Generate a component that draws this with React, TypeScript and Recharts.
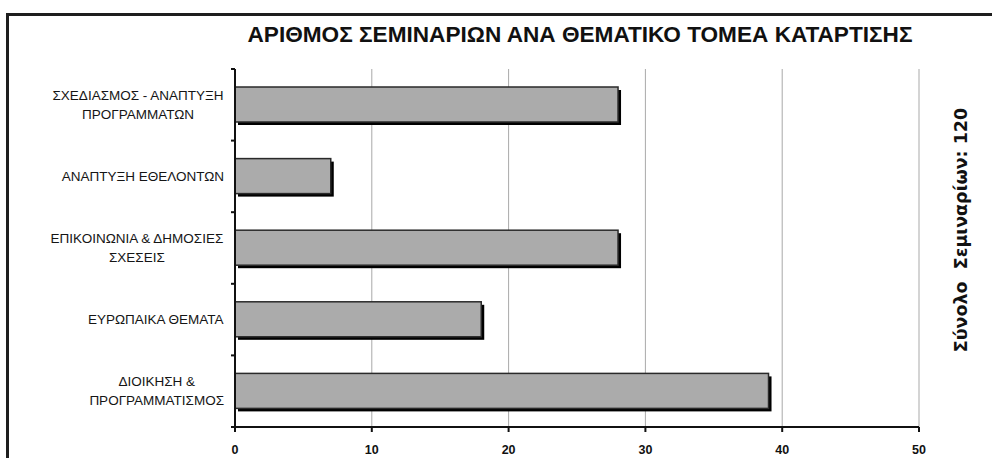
import React from 'react';
import { BarChart, Bar, XAxis, YAxis, CartesianGrid } from 'recharts';

const categories = [
  'ΣΧΕΔΙΑΣΜΟΣ - ΑΝΑΠΤΥΞΗ\nΠΡΟΓΡΑΜΜΑΤΩΝ',
  'ΑΝΑΠΤΥΞΗ ΕΘΕΛΟΝΤΩΝ',
  'ΕΠΙΚΟΙΝΩΝΙΑ & ΔΗΜΟΣΙΕΣ\nΣΧΕΣΕΙΣ',
  'ΕΥΡΩΠΑΙΚΑ ΘΕΜΑΤΑ',
  'ΔΙΟΙΚΗΣΗ &\nΠΡΟΓΡΑΜΜΑΤΙΣΜΟΣ',
];
const seminars = [28, 7, 28, 18, 39];
const xTicks = [0, 10, 20, 30, 40, 50];
const title = 'ΑΡΙΘΜΟΣ ΣΕΜΙΝΑΡΙΩΝ ΑΝΑ ΘΕΜΑΤΙΚΟ ΤΟΜΕΑ ΚΑΤΑΡΤΙΣΗΣ';
const sideNote = 'Σύνολο  Σεμιναρίων: 120';

const chartData = categories.map((name, i) => ({ name, value: seminars[i] }));

const FONT = "Arial, 'Liberation Sans', sans-serif";
const LABEL_SIZE = 13.5;

let measureCtx: CanvasRenderingContext2D | null = null;
const textWidth = (s: string) => {
  if (!measureCtx) {
    measureCtx = document.createElement('canvas').getContext('2d');
  }
  if (!measureCtx) return s.length * 8.5;
  measureCtx.font = `${LABEL_SIZE}px ${FONT}`;
  return measureCtx.measureText(s).width;
};

// category label: lines centred on each other, block right-aligned next to the axis
const CategoryTick = (props: any) => {
  const { x, y, payload, index, visibleTicksCount } = props;
  const lines: string[] = String(payload.value).split('\n');
  const band = payload.offset ? payload.offset * 2 : 71.6;
  const axisX = x + 8; // tick x sits tickSize + tickMargin left of the axis
  const right = axisX - 11;
  const blockW = Math.max(...lines.map(textWidth));
  const cx = right - blockW / 2;
  const lh = 18.5;
  const startY = y - ((lines.length - 1) * lh) / 2;
  return (
    <g>
      <line x1={axisX - 4} x2={axisX} y1={y - band / 2} y2={y - band / 2} stroke="#111" strokeWidth={2} />
      {index === visibleTicksCount - 1 && (
        <line x1={axisX - 4} x2={axisX} y1={y + band / 2} y2={y + band / 2} stroke="#111" strokeWidth={2} />
      )}
      <text textAnchor="middle" fill="#151515" fontSize={LABEL_SIZE} fontFamily={FONT}>
        {lines.map((l, i) => (
          <tspan key={i} x={cx} y={startY + i * lh} dominantBaseline="central">
            {l}
          </tspan>
        ))}
      </text>
    </g>
  );
};

const ShadowBar = (props: any) => {
  const { x, y, width, height } = props;
  if (!width || width <= 0) return null;
  return (
    <g>
      <rect x={x + 3} y={y + 3} width={width} height={height} fill="#000" />
      <rect x={x} y={y} width={width} height={height} fill="#ababab" stroke="#2a2a2a" strokeWidth={1.5} />
    </g>
  );
};

const App: React.FC = () => {
  return (
    <div style={{ position: 'fixed', left: 0, top: 0, width: 992, height: 458, overflow: 'hidden', background: '#fff' }}>
      <div
        style={{
          position: 'absolute',
          left: 6,
          top: 13,
          width: 1000,
          height: 460,
          borderTop: '3px solid #1e1e1e',
          borderLeft: '3px solid #1e1e1e',
        }}
      />
      <div style={{ position: 'absolute', left: 0, top: 0 }}>
        <BarChart
          width={992}
          height={458}
          data={chartData}
          layout="vertical"
          margin={{ top: 69, right: 73, bottom: 6, left: 0 }}
        >
          <CartesianGrid horizontal={false} stroke="#a9a9a9" strokeWidth={1} />
          <XAxis
            type="number"
            domain={[0, 50]}
            ticks={xTicks}
            interval={0}
            height={25}
            axisLine={{ stroke: '#111', strokeWidth: 2 }}
            tickLine={{ stroke: '#111', strokeWidth: 2 }}
            tickSize={5}
            tickMargin={13}
            tick={{ fill: '#111', fontSize: 12.5, fontWeight: 'bold', fontFamily: FONT }}
          />
          <XAxis
            xAxisId="top"
            orientation="top"
            type="number"
            domain={[0, 50]}
            height={0}
            tick={false}
            tickLine={false}
            axisLine={{ stroke: '#a9a9a9', strokeWidth: 2 }}
          />
          <YAxis
            type="category"
            dataKey="name"
            width={235}
            interval={0}
            tickLine={false}
            axisLine={{ stroke: '#111', strokeWidth: 2 }}
            tick={<CategoryTick />}
          />
          <YAxis
            yAxisId="right"
            orientation="right"
            type="category"
            dataKey="name"
            width={0}
            tick={false}
            tickLine={false}
            axisLine={{ stroke: '#a9a9a9', strokeWidth: 2 }}
          />
          <Bar dataKey="value" barSize={35} shape={<ShadowBar />} isAnimationActive={false} />
        </BarChart>
      </div>
      <svg width={992} height={458} style={{ position: 'absolute', left: 0, top: 0, pointerEvents: 'none' }}>
        <text
          x={580}
          y={42}
          textAnchor="middle"
          fontFamily={FONT}
          fontWeight="bold"
          fontSize={22}
          textLength={665}
          lengthAdjust="spacingAndGlyphs"
          fill="#111"
        >
          {title}
        </text>
        <text
          x={961}
          y={230}
          textAnchor="middle"
          dominantBaseline="central"
          fontFamily="'DejaVu Sans', Verdana, sans-serif"
          fontWeight="bold"
          fontSize={17.5}
          fill="#111"
          style={{ whiteSpace: 'pre' }}
          transform="rotate(-90 961 230)"
        >
          {sideNote}
        </text>
      </svg>
    </div>
  );
};

export default App;
